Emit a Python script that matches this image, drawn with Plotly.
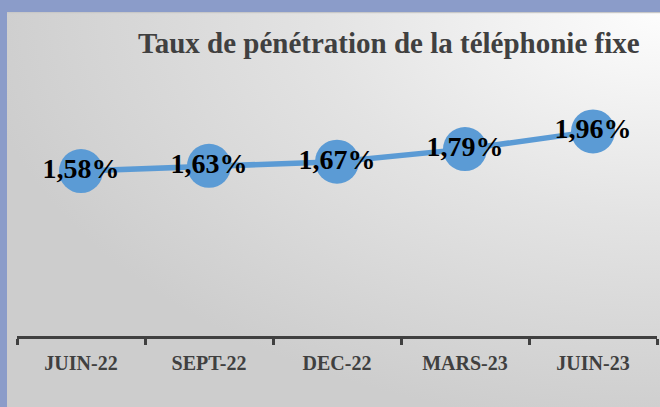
import base64
import plotly.graph_objects as go

categories = ["JUIN-22", "SEPT-22", "DEC-22", "MARS-23", "JUIN-23"]
values = [1.58, 1.63, 1.67, 1.79, 1.96]
labels = ["1,58%", "1,63%", "1,67%", "1,79%", "1,96%"]
title_text = "Taux de pénétration de la téléphonie fixe"

W, H = 660, 407
ML, MR, MT, MB = 17, 3, 75, 71
pw = W - ML - MR
ph = H - MT - MB

def px_to_paper_x(px):
    return (px - ML) / pw

def py_to_paper_y(py):
    return (H - MB - py) / ph

svg = """<svg xmlns='http://www.w3.org/2000/svg' width='653' height='395' viewBox='0 0 653 395' preserveAspectRatio='none'>
<defs><radialGradient id='g' cx='1' cy='0' r='1.05' gradientUnits='objectBoundingBox'>
<stop offset='0' stop-color='#fdfdfd'/><stop offset='0.5' stop-color='#e3e3e3'/><stop offset='1' stop-color='#cdcdcd'/>
</radialGradient></defs>
<rect x='0' y='0' width='653' height='395' fill='url(#g)'/>
<rect x='0' y='0' width='653' height='1.2' fill='#c8c8c8'/>
</svg>"""
src = "data:image/svg+xml;base64," + base64.b64encode(svg.encode()).decode()

fig = go.Figure()
fig.add_trace(go.Scatter(
    x=categories, y=values, text=labels,
    mode="lines+markers+text",
    line=dict(color="#5B9BD5", width=5.5),
    marker=dict(color="#5B9BD5", size=44, line=dict(width=0)),
    textposition="middle center",
    textfont=dict(family="Liberation Serif", size=28, color="#000000", weight="bold"),
    cliponaxis=False,
    hoverinfo="skip",
))

fig.add_layout_image(dict(
    source=src, xref="paper", yref="paper",
    x=px_to_paper_x(7), y=py_to_paper_y(12),
    sizex=(W - 7) / pw, sizey=(H - 12) / ph,
    xanchor="left", yanchor="top", sizing="stretch", layer="below",
))

fig.add_annotation(
    text=title_text, xref="paper", yref="paper",
    x=px_to_paper_x(389), y=py_to_paper_y(43),
    xanchor="center", yanchor="middle", showarrow=False,
    font=dict(family="Liberation Serif", size=29, color="#404040", weight="bold"),
)

fig.update_layout(
    width=W, height=H,
    margin=dict(l=ML, r=MR, t=MT, b=MB, pad=0),
    paper_bgcolor="#8B9CC9",
    plot_bgcolor="rgba(0,0,0,0)",
    showlegend=False,
    xaxis=dict(
        type="category", range=[-0.5, 4.5],
        showline=True, linecolor="#404040", linewidth=3,
        ticks="outside", tickson="boundaries", ticklen=6, tickwidth=3, tickcolor="#404040",
        showgrid=False, zeroline=False,
        tickfont=dict(family="Liberation Serif", size=20, color="#404040", weight="bold"),
        ticklabelstandoff=7,
    ),
    yaxis=dict(range=[0, 2.5], visible=False, showgrid=False, zeroline=False),
)

fig.write_html(
    "out.html",
    config={"displayModeBar": False},
    post_script="document.body.style.margin='0';document.body.style.overflow='hidden';",
)
